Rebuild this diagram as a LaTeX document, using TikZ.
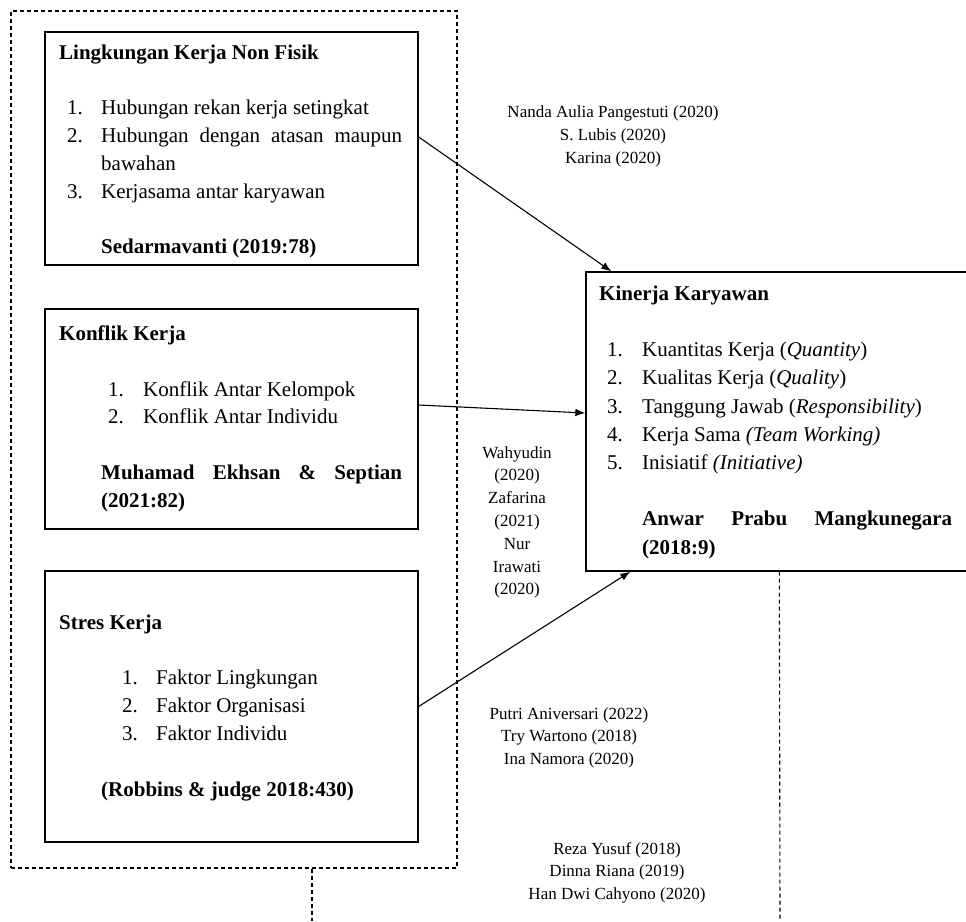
\documentclass[tikz,border=0pt]{standalone}
\usepackage{fontspec}
\setmainfont{Liberation Serif}
\usetikzlibrary{arrows.meta}
\begin{document}
\begin{tikzpicture}[x=1pt,y=-1pt,>={Latex[length=10pt,width=7.5pt]},
   kotak/.style={draw,line width=1.3pt,inner sep=0pt},
   garis/.style={line width=1.1pt,dash pattern=on 4pt off 3pt},
   isi/.style={anchor=north west,inner sep=0pt,align=left,font=\fontsize{21}{27.8}\selectfont},
   rujukan/.style={anchor=north,inner sep=0pt,align=center,font=\fontsize{17}{22.8}\selectfont},
   panah/.style={->,line width=1.1pt}]
   \useasboundingbox (0,0) rectangle (966,921);
   %dashed frame
   \node[garis,draw,inner sep=0pt,minimum width=446pt,minimum height=857pt] (grp) at (234,439.5) {};
   %boxes
   \node[kotak,minimum width=373pt,minimum height=233pt] (box1) at (231.5,148.5) {};
   \node[kotak,minimum width=373pt,minimum height=220pt] (box2) at (231.5,419) {};
   \node[kotak,minimum width=373pt,minimum height=271pt] (box3) at (231.5,706.5) {};
   \node[kotak,minimum width=384pt,minimum height=299pt] (kinerja) at (778,421.5) {};
   %box text
   \node[isi] (isi1) at (59,44.5) {\textbf{Lingkungan Kerja Non Fisik}\\[27.8pt]
      \hspace*{8pt}\makebox[34pt][l]{1.}Hubungan rekan kerja setingkat\\
      \hspace*{8pt}\makebox[34pt][l]{2.}\makebox[301pt][s]{Hubungan dengan atasan maupun}\\
      \hspace*{42pt}bawahan\\
      \hspace*{8pt}\makebox[34pt][l]{3.}Kerjasama antar karyawan\\[27.8pt]
      \hspace*{42pt}\textbf{Sedarmavanti (2019:78)}};
   \node[isi] (isi2) at (59,325.5) {\textbf{Konflik Kerja}\\[27.8pt]
      \hspace*{49pt}\makebox[35pt][l]{1.}Konflik Antar Kelompok\\
      \hspace*{49pt}\makebox[35pt][l]{2.}Konflik Antar Individu\\[27.8pt]
      \hspace*{42pt}\makebox[301pt][s]{\textbf{Muhamad Ekhsan \& Septian}}\\
      \hspace*{42pt}\textbf{(2021:82)}};
   \node[isi] (isi3) at (59,614.5) {\textbf{Stres Kerja}\\[27.8pt]
      \hspace*{63pt}\makebox[34pt][l]{1.}Faktor Lingkungan\\
      \hspace*{63pt}\makebox[34pt][l]{2.}Faktor Organisasi\\
      \hspace*{63pt}\makebox[34pt][l]{3.}Faktor Individu\\[27.8pt]
      \hspace*{42pt}\textbf{(Robbins \& judge 2018:430)}};
   \node[isi,font=\fontsize{21}{28.2}\selectfont] (isi4) at (599,285.5) {\textbf{Kinerja Karyawan}\\[28.2pt]
      \hspace*{8pt}\makebox[35pt][l]{1.}Kuantitas Kerja (\textit{Quantity})\\
      \hspace*{8pt}\makebox[35pt][l]{2.}Kualitas Kerja (\textit{Quality})\\
      \hspace*{8pt}\makebox[35pt][l]{3.}Tanggung Jawab (\textit{Responsibility})\\
      \hspace*{8pt}\makebox[35pt][l]{4.}Kerja Sama \textit{(Team Working)}\\
      \hspace*{8pt}\makebox[35pt][l]{5.}Inisiatif \textit{(Initiative)}\\[28.2pt]
      \hspace*{43pt}\makebox[310pt][s]{\textbf{Anwar Prabu Mangkunegara}}\\
      \hspace*{43pt}\textbf{(2018:9)}};
   %arrows
   \draw[panah] ([yshift=11.5pt]box1.east) -- ([xshift=26pt]kinerja.north west);
   \draw[panah] ([yshift=14pt]box2.east) -- ([yshift=8.5pt]kinerja.west);
   \draw[panah] (box3.east) -- ([xshift=45pt]kinerja.south west);
   %dashed legs
   \coordinate (kaki1) at (312,921);
   \coordinate (kaki2) at (780,921);
   \draw[garis] ([xshift=78pt]grp.south) -- (kaki1);
   \draw[garis] ([xshift=194pt]kinerja.south west) -- (kaki2);
   %references
   \node[rujukan] (ref1) at (613,106) {Nanda Aulia Pangestuti (2020)\\S. Lubis (2020)\\Karina (2020)};
   \node[rujukan] (ref2) at (517,446) {Wahyudin\\(2020)\\Zafarina\\(2021)\\Nur\\Irawati\\(2020)};
   \node[rujukan] (ref3) at (569,707) {Putri Aniversari (2022)\\Try Wartono (2018)\\Ina Namora (2020)};
   \node[rujukan] (ref4) at (617,842) {Reza Yusuf (2018)\\Dinna Riana (2019)\\Han Dwi Cahyono (2020)};
  \end{tikzpicture}
\end{document}
